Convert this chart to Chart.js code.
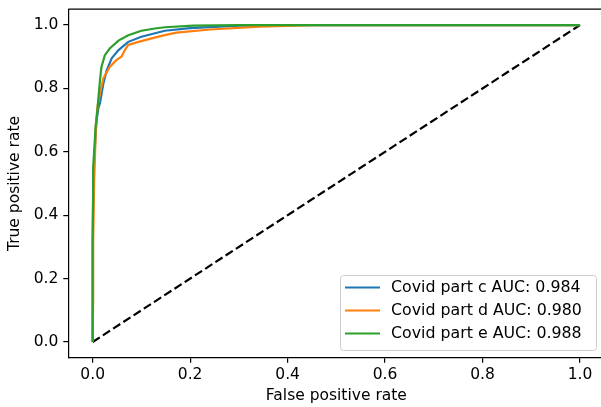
<!DOCTYPE html>
<html>
<head>
<meta charset="utf-8">
<script src="https://cdn.jsdelivr.net/npm/chart.js@4"></script>
<style>
    html, body { margin: 0; padding: 0; background: #fff; overflow: hidden; }
    #wrap { width: 601px; height: 407px; overflow: hidden; }
    #roc { display: block; }
</style>
</head>
<body>
<div id="wrap"><canvas id="roc" width="620" height="407"></canvas></div>
<script>
// ROC curves for the three Covid parts
const labels = ['Covid part c AUC: 0.984', 'Covid part d AUC: 0.980', 'Covid part e AUC: 0.988'];
const colors = ['#1f77b4', '#ff7f0e', '#2ca02c'];

const fprC = [0, 0, 0.001, 0.004, 0.008, 0.012, 0.015, 0.022, 0.029, 0.039, 0.053, 0.073, 0.1, 0.128, 0.148, 0.2, 0.3, 0.4, 1];
const tprC = [0, 0.3, 0.5, 0.6, 0.7, 0.74, 0.753, 0.816, 0.858, 0.895, 0.921, 0.947, 0.963, 0.974, 0.982, 0.99, 0.998, 1, 1];

const fprD = [0, 0.001, 0.001, 0.003, 0.005, 0.007, 0.011, 0.015, 0.022, 0.035, 0.049, 0.059, 0.066, 0.073, 0.094, 0.121, 0.148, 0.172, 0.241, 0.343, 0.45, 1];
const tprD = [0, 0.14, 0.31, 0.5, 0.6, 0.7, 0.753, 0.784, 0.832, 0.868, 0.89, 0.9, 0.921, 0.937, 0.947, 0.958, 0.968, 0.976, 0.986, 0.995, 1, 1];

const fprE = [0, 0, 0.001, 0.001, 0.003, 0.006, 0.008, 0.012, 0.015, 0.018, 0.025, 0.035, 0.053, 0.073, 0.1, 0.128, 0.148, 0.206, 0.3, 1];
const tprE = [0, 0.33, 0.45, 0.55, 0.6, 0.68, 0.7, 0.774, 0.826, 0.868, 0.905, 0.926, 0.951, 0.968, 0.982, 0.989, 0.993, 0.998, 1, 1];

const chanceX = [0, 1];
const chanceY = [0, 1];

const tickValues = [0, 0.2, 0.4, 0.6, 0.8, 1.0];

const FONT = "'DejaVu Sans', sans-serif";

function toPoints(xs, ys) {
    return xs.map((x, i) => ({ x: x, y: ys[i] }));
}

function curve(i, xs, ys, order) {
    return {
        label: labels[i],
        data: toPoints(xs, ys),
        borderColor: colors[i],
        backgroundColor: colors[i],
        borderWidth: 2.2,
        pointRadius: 0,
        tension: 0,
        fill: false,
        order: order
    };
}

// top spine + matplotlib style legend box
const framePlugin = {
    id: 'frame',
    afterDatasetsDraw(chart) {
        const { ctx, chartArea: a } = chart;
        ctx.save();
        ctx.strokeStyle = '#000';
        ctx.lineWidth = 1.2;
        ctx.beginPath();
        ctx.moveTo(a.left, a.top);
        ctx.lineTo(a.right, a.top);
        ctx.stroke();

        // legend in the lower right corner
        const bx = 340, by = 275, bw = 256, bh = 75, r = 3;
        ctx.beginPath();
        ctx.roundRect(bx + 0.5, by + 0.5, bw, bh, r);
        ctx.fillStyle = 'rgba(255,255,255,0.8)';
        ctx.fill();
        ctx.strokeStyle = '#cccccc';
        ctx.lineWidth = 1;
        ctx.stroke();

        ctx.font = '15.8px ' + FONT;
        ctx.textBaseline = 'middle';
        ctx.textAlign = 'left';
        const rows = [287.5, 310.5, 333.5];
        for (let i = 0; i < 3; i++) {
            ctx.strokeStyle = colors[i];
            ctx.lineWidth = 2.2;
            ctx.beginPath();
            ctx.moveTo(345, rows[i]);
            ctx.lineTo(380, rows[i]);
            ctx.stroke();
            ctx.fillStyle = '#000';
            ctx.fillText(labels[i], 391, rows[i]);
        }
        ctx.restore();
    }
};

function fixedTicks(scale) {
    scale.ticks = tickValues.map(v => ({ value: v }));
}

new Chart(document.getElementById('roc'), {
    type: 'line',
    data: {
        datasets: [
            {
                label: '',
                data: toPoints(chanceX, chanceY),
                borderColor: '#000',
                borderWidth: 2.2,
                borderDash: [8.5, 3.7],
                pointRadius: 0,
                fill: false,
                order: 3
            },
            curve(0, fprC, tprC, 2),
            curve(1, fprD, tprD, 1),
            curve(2, fprE, tprE, 0)
        ]
    },
    options: {
        responsive: false,
        animation: false,
        layout: { padding: { left: 0, top: 9.2, right: 15.6, bottom: 0 } },
        plugins: {
            legend: { display: false },
            tooltip: { enabled: false }
        },
        scales: {
            x: {
                type: 'linear',
                min: -0.05,
                max: 1.05,
                afterBuildTicks: fixedTicks,
                afterFit(scale) {
                    scale.height = 49.2;
                    scale.paddingLeft = 0;
                    scale.paddingRight = 0;
                },
                grid: { drawOnChartArea: false, drawTicks: true, tickLength: 5, color: '#000', lineWidth: 1.2 },
                border: { display: true, color: '#000', width: 1.2 },
                ticks: {
                    color: '#000',
                    padding: 3,
                    maxRotation: 0,
                    font: { family: FONT, size: 15.5 },
                    callback: v => v.toFixed(1)
                },
                title: {
                    display: true,
                    text: 'False positive rate',
                    color: '#000',
                    font: { family: FONT, size: 15.5 },
                    padding: { top: 0, bottom: 2 }
                }
            },
            y: {
                type: 'linear',
                min: -0.05,
                max: 1.05,
                afterBuildTicks: fixedTicks,
                afterFit(scale) {
                    scale.width = 68.3;
                    scale.paddingTop = 0;
                    scale.paddingBottom = 0;
                },
                grid: { drawOnChartArea: false, drawTicks: true, tickLength: 5, color: '#000', lineWidth: 1.2 },
                border: { display: true, color: '#000', width: 1.2 },
                ticks: {
                    color: '#000',
                    padding: 5,
                    font: { family: FONT, size: 15.5 },
                    callback: v => v.toFixed(1)
                },
                title: {
                    display: true,
                    text: 'True positive rate',
                    color: '#000',
                    font: { family: FONT, size: 15.5 },
                    padding: { top: 6, bottom: 0 }
                }
            }
        }
    },
    plugins: [framePlugin]
});
</script>
</body>
</html>
